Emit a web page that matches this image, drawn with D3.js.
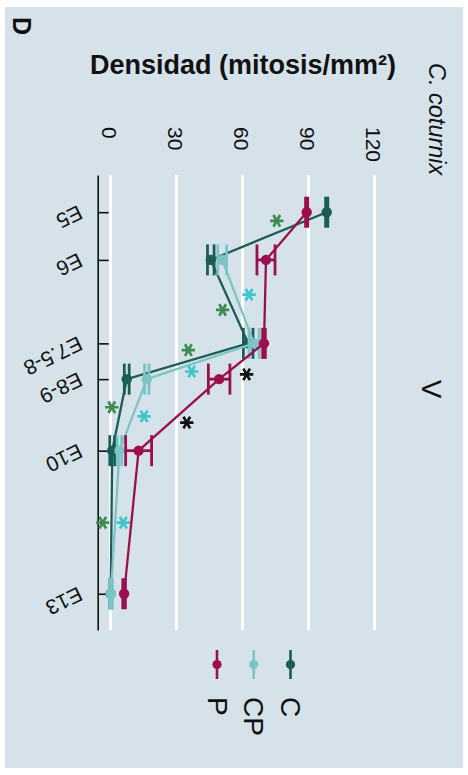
<!DOCTYPE html>
<html>
<head>
<meta charset="utf-8">
<script src="https://cdn.jsdelivr.net/npm/d3@7"></script>
<style>
  html, body { margin: 0; padding: 0; background: #ffffff; }
  svg { display: block; }
  text { font-family: "Liberation Sans", Arial, Helvetica, sans-serif; fill: #111; }
</style>
</head>
<body>
<svg id="chart" width="468" height="775"></svg>
<script>
// Embryonic stages (position in days along the stage axis) and their labels
const stageDays   = [5, 6, 7.75, 8.5, 10, 13];
const stageLabels = ["E5", "E6", "E7.5-8", "E8-9", "E10", "E13"];
const valueTicks  = [0, 30, 60, 90, 120];

// Mitosis density per group (null = not sampled) and error half-widths
const densityC   = [98.5, 45.8, 62.8, 7.6, 1.0, 0.3];
const errorC     = [0.5, 1.5, 2.2, 1.1, 1.1, 0.5];
const densityCP  = [null, 51.0, 65.5, 16.7, 4.3, 0.4];
const errorCP    = [null, 2.0, 2.3, 1.0, 1.0, 0.6];
const densityP   = [89.4, 70.9, 70.0, 49.6, 13.0, 6.4];
const errorP     = [0.5, 4.1, 0.6, 4.9, 5.9, 0.6];

// Significance marks: [stage (days), density]
const sigC  = [[5.18, 75.8], [7.05, 51.2], [7.89, 35.6], [9.09, 0.8], [11.51, -3.3]];
const sigCP = [[6.73, 63.2], [8.34, 37.1], [9.28, 15.5], [11.51, 6.05]];
const sigP  = [[8.40, 62.1], [9.41, 34.9]];

const groups = [
  { key: "C",  values: densityC,  errors: errorC,  color: "#1b5c55" },
  { key: "CP", values: densityCP, errors: errorCP, color: "#7cc4c5" },
  { key: "P",  values: densityP,  errors: errorP,  color: "#9b0f4e" }
];
const sigSets = [
  { marks: sigC,  color: "#3f8b52" },
  { marks: sigCP, color: "#3fc5cd" },
  { marks: sigP,  color: "#111111" }
];

const svg = d3.select("#chart");

// panel background
svg.append("rect")
  .attr("x", 5).attr("y", 7).attr("width", 458).attr("height", 761)
  .attr("fill", "#d5e2ea");

// value runs left to right, stage runs top to bottom
const x = d3.scaleLinear().domain([-5.6, 125]).range([97.7, 385]);
const y = d3.scaleLinear().domain([4.22, 13.76]).range([175, 630]);

const plotTop = y.range()[0], plotBottom = y.range()[1];

// gridlines + value labels
const gx = svg.append("g")
  .attr("transform", `translate(0,${plotTop})`)
  .call(d3.axisTop(x).tickValues(valueTicks).tickSize(-(plotBottom - plotTop)).tickPadding(0));
gx.select(".domain").remove();
gx.selectAll(".tick line").attr("stroke", "#ffffff").attr("stroke-width", 3);
gx.selectAll(".tick text")
  .attr("x", 0).attr("y", 0).attr("dy", null)
  .attr("transform", "translate(-1,-48) rotate(90)")
  .attr("text-anchor", "start")
  .attr("dominant-baseline", "central")
  .style("font-size", "21px")
  .style("font-family", "'Liberation Sans', Arial, sans-serif")
  .attr("fill", "#111");

// stage axis
const gy = svg.append("g")
  .attr("transform", `translate(${x(-5.6)},0)`)
  .call(d3.axisLeft(y).tickValues(stageDays)
    .tickFormat((d, i) => stageLabels[i]).tickSizeInner(-11).tickSizeOuter(0).tickPadding(0));
gy.select(".domain").attr("stroke", "#111").attr("stroke-width", 1.6);
gy.selectAll(".tick line").attr("stroke", "#111").attr("stroke-width", 1.6);
gy.selectAll(".tick text")
  .attr("x", 0).attr("dy", null)
  .attr("transform", "translate(-20,-8) rotate(154)")
  .attr("text-anchor", "start")
  .style("font-size", "21px")
  .style("font-family", "'Liberation Sans', Arial, sans-serif")
  .attr("fill", "#111");

// series
const capHalf = 15.5;
groups.forEach(g => {
  const pts = stageDays.map((d, i) => ({ d, v: g.values[i], e: g.errors[i] }))
    .filter(p => p.v !== null);
  const layer = svg.append("g");
  layer.append("path")
    .datum(pts)
    .attr("fill", "none")
    .attr("stroke", g.color)
    .attr("stroke-width", 2.3)
    .attr("d", d3.line().x(p => x(p.v)).y(p => y(p.d)));
  // error bars
  const eb = layer.selectAll(".eb").data(pts).join("g").attr("class", "eb")
    .attr("stroke", g.color).attr("stroke-width", 2.8);
  eb.append("line")
    .attr("x1", p => x(p.v - p.e)).attr("x2", p => x(p.v + p.e))
    .attr("y1", p => y(p.d)).attr("y2", p => y(p.d));
  eb.append("line")
    .attr("x1", p => x(p.v - p.e)).attr("x2", p => x(p.v - p.e))
    .attr("y1", p => y(p.d) - capHalf).attr("y2", p => y(p.d) + capHalf);
  eb.append("line")
    .attr("x1", p => x(p.v + p.e)).attr("x2", p => x(p.v + p.e))
    .attr("y1", p => y(p.d) - capHalf).attr("y2", p => y(p.d) + capHalf);
  layer.selectAll("circle").data(pts).join("circle")
    .attr("cx", p => x(p.v)).attr("cy", p => y(p.d)).attr("r", 5.2)
    .attr("fill", g.color);
});

// significance asterisks
const star = d3.symbol().type(d3.symbolAsterisk).size(125);
sigSets.forEach(s => {
  svg.append("g").selectAll("path").data(s.marks).join("path")
    .attr("d", star)
    .attr("transform", m => `translate(${x(m[1])},${y(m[0])}) rotate(90)`)
    .attr("fill", "none")
    .attr("stroke", s.color)
    .attr("stroke-width", 2.7);
});

// legend
const legendX = d3.scalePoint().domain(["P", "CP", "C"]).range([217, 290.5]);
const legendGroups = ["C", "CP", "P"].map(k => groups.find(g => g.key === k));
const lg = svg.append("g").selectAll("g").data(legendGroups).join("g")
  .attr("transform", g => `translate(${legendX(g.key)},0)`);
lg.append("line")
  .attr("x1", 0).attr("x2", 0).attr("y1", 650).attr("y2", 679)
  .attr("stroke", g => g.color).attr("stroke-width", 2.6);
lg.append("circle")
  .attr("cx", 0).attr("cy", 664.5).attr("r", 4.6)
  .attr("fill", g => g.color);
lg.append("text")
  .attr("transform", "translate(0,697) rotate(90)")
  .attr("text-anchor", "start")
  .attr("dominant-baseline", "central")
  .style("font-size", "28px")
  .text(g => g.key);

// titles
svg.append("text")
  .attr("x", 90).attr("y", 74)
  .style("font-size", "27px").style("font-weight", "bold")
  .text("Densidad (mitosis/mm²)");

svg.append("text")
  .attr("transform", "translate(437,63) rotate(90)")
  .attr("text-anchor", "start")
  .attr("dominant-baseline", "central")
  .style("font-size", "23.5px").style("font-style", "italic")
  .text("C. coturnix");

svg.append("text")
  .attr("transform", "translate(431,389) rotate(90)")
  .attr("text-anchor", "middle")
  .attr("dominant-baseline", "central")
  .style("font-size", "28px")
  .text("V");

svg.append("text")
  .attr("transform", "translate(22,26) rotate(90)")
  .attr("text-anchor", "middle")
  .attr("dominant-baseline", "central")
  .style("font-size", "25px").style("font-weight", "bold")
  .text("D");
</script>
</body>
</html>
